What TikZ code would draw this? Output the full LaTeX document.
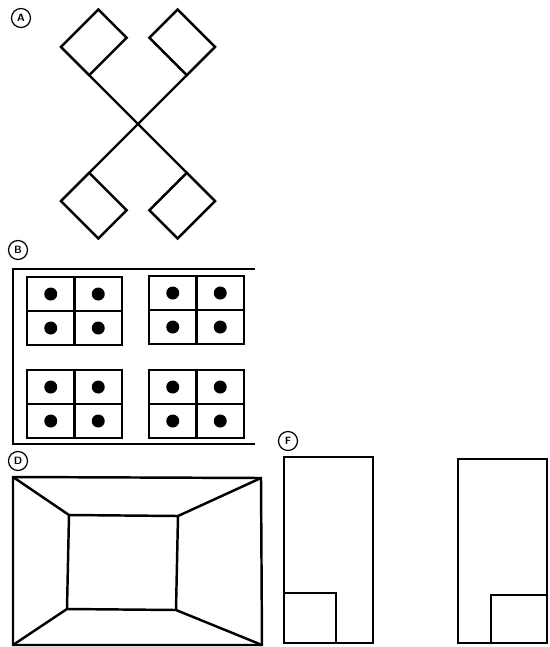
\documentclass[tikz,border=0pt]{standalone}
\usepackage{tikz}
\usetikzlibrary{positioning}

\begin{document}
\begin{tikzpicture}[x=0.02cm, y=-0.02cm, line width=1.4pt,
    tag/.style={circle, draw, line width=0.7pt, inner sep=0pt, minimum size=0.38cm, font=\fontsize{6}{6}\selectfont\sffamily\bfseries}]
\useasboundingbox (0,0) rectangle (549,647);

% 1. Crossed arms with flags (Top Left)
\node[tag] (tagA) at (21,18) {A};
\coordinate (X) at (138,124);
\foreach \ang/\side in {135/-1, 45/1, 225/1, 315/-1} {
    \begin{scope}[shift={(X)}, x=0.02cm, y=0.02cm, rotate=\ang]
        \draw (0,0) -- (109,0);
        \draw (69,0) rectangle (109,\side*53);
    \end{scope}
}

% 2. Dot grids in open frame (Middle Left)
\node[tag] (tagB) at (18,250) {B};
\draw (255,269) -- (13,269) -- (13,444) -- (255,444);
\foreach \gx/\gy in {27/277, 149/276, 27/370, 149/370} {
    \draw (\gx,\gy) rectangle ++(95,68);
    \draw (\gx+47.5,\gy) -- ++(0,68);
    \draw (\gx,\gy+34) -- ++(95,0);
    \foreach \dx in {23.75,71.25}
        \foreach \dy in {17,51}
            \fill (\gx+\dx,\gy+\dy) circle (3.7pt);
}

% 3. Room in perspective (Bottom Left)
\node[tag] (tagD) at (18,461) {D};
\coordinate (o1) at (13,477);
\coordinate (o2) at (261,478);
\coordinate (o3) at (262,645);
\coordinate (o4) at (13,645);
\coordinate (i1) at (69,515);
\coordinate (i2) at (178,516);
\coordinate (i3) at (176,610);
\coordinate (i4) at (67,609);
\draw (o1) -- (o2) -- (o3) -- (o4) -- cycle;
\draw (i1) -- (i2) -- (i3) -- (i4) -- cycle;
\foreach \k in {1,...,4}
    \draw (o\k) -- (i\k);

% 4. Tall boxes with corner squares (Bottom Right)
\node[tag] (tagF) at (288,441) {F};
\draw (284,457) rectangle (373,643);
\draw (284,593) rectangle (336,643);
\draw (458,459) rectangle (547,643);
\draw (491,595) rectangle (547,643);

\end{tikzpicture}
\end{document}
